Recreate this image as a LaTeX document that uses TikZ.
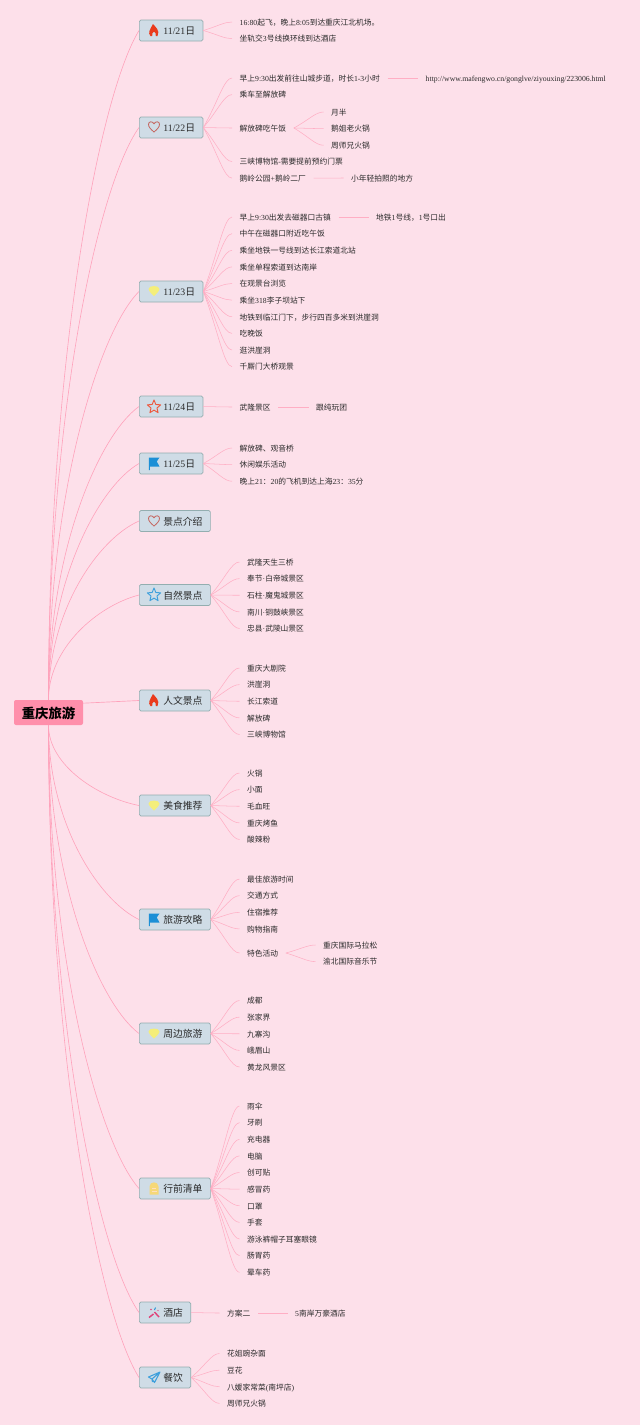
\documentclass[tikz,border=0pt]{standalone}
\usepackage{fontspec}
\usepackage{amsmath}
\usetikzlibrary{positioning,calc}
\setmainfont{Liberation Serif}
\newfontfamily\cjk{Noto Sans CJK SC}
\newcommand{\lat}[1]{{\rmfamily #1}}
\definecolor{bgpink}{HTML}{FDE0EA}
\definecolor{rootpink}{HTML}{FF8FAB}
\definecolor{twigpink}{HTML}{FFAEC4}
\definecolor{boughpink}{HTML}{FFA2BB}
\definecolor{boxfill}{HTML}{CFDCE6}
\definecolor{boxline}{HTML}{93AEB0}
\definecolor{leaftext}{HTML}{2A2A2A}
\definecolor{flamered}{HTML}{EA3A1C}
\definecolor{heartred}{HTML}{C4645E}
\definecolor{bulbyellow}{HTML}{F4EE7A}
\definecolor{flagblue}{HTML}{1C8FD6}
\definecolor{starblue}{HTML}{3FA0DC}
\definecolor{packyellow}{HTML}{F6D878}
\definecolor{wandpink}{HTML}{E0457A}
\tikzset{
  rootbox/.style={fill=rootpink,rounded corners=1.5pt,minimum width=51.75pt,minimum height=18.75pt,inner sep=0pt,text height=8.4pt,text depth=0pt,font=\cjk\bfseries\fontsize{10}{12}\selectfont},
  topic/.style={draw=boxline,fill=boxfill,line width=0.5pt,rounded corners=1.2pt,anchor=west,minimum height=15.75pt,inner ysep=0pt,inner xsep=5.9pt,text height=6.3pt,text depth=0.3pt,text=leaftext,font=\cjk\fontsize{7.35}{9}\selectfont},
  leaf/.style={anchor=west,inner ysep=0pt,inner xsep=5.6pt,text height=5.5pt,text depth=0.5pt,text=leaftext,font=\cjk\fontsize{5.8}{7}\selectfont},
  nextleaf/.style={leaf,below=of #1.west,anchor=west},
  twig/.style={draw=twigpink,line width=0.4pt,to path={.. controls ($(\tikztostart)!0.5!(\tikztotarget)$) and ($(\tikztotarget)+(-8,0)$) .. (\tikztotarget)}},
  bough/.style={draw=boughpink,line width=0.45pt,to path={let \p1=(\tikztostart),\p2=(\tikztotarget) in .. controls (\x1,{\y1+0.5*(\y2-\y1)}) and ({\x2-0.45*(\x2-\x1)},{\y2-0.1*(\y2-\y1)}) .. (\p2)}},
  flame/.pic={\fill[flamered] (-3.5,5.5) .. controls (-6.5,2.5) and (-4,-1) .. (-1,-6.5) .. controls (1,-4) and (6.5,0) .. (3.5,5.5) -- (1.8,5.5) .. controls (2.5,3) and (1,2) .. (0,1) .. controls (-1,2) and (-2.5,3) .. (-1.8,5.5) -- cycle;},
  heart/.pic={\draw[heartred,line width=0.6pt] (0,5) .. controls (-3,2.5) and (-5.5,0) .. (-5.5,-2.5) .. controls (-5.5,-6) and (-1.5,-6) .. (0,-3.2) .. controls (1.5,-6) and (5.5,-6) .. (5.5,-2.5) .. controls (5.5,0) and (3,2.5) .. (0,5) -- cycle;},
  bulb/.pic={\fill[bulbyellow] (0,5) .. controls (-2,3) and (-5.5,0) .. (-5.5,-2) .. controls (-5.5,-6) and (5.5,-6) .. (5.5,-2) .. controls (5.5,0) and (2,3) .. (0,5) -- cycle;},
  starshape/.pic={\draw[pic actions,scale=1.08,line width=0.7pt,line join=round] (0,-6.5) -- (1.7,-2.35) -- (6.2,-2) -- (2.76,0.9) -- (3.8,5.25) -- (0,2.9) -- (-3.8,5.25) -- (-2.76,0.9) -- (-6.2,-2) -- (-1.7,-2.35) -- cycle;},
  flag/.pic={\fill[flagblue] (-5.2,-6) -- (5.5,-6) -- (2.8,-2) -- (5.5,3) -- (-4.2,3) -- (-4.2,6.5) -- (-5.2,6.5) -- cycle;},
  pack/.pic={\fill[packyellow] (-4.5,6) -- (-4.5,-2) .. controls (-4.5,-7.5) and (4.5,-7.5) .. (4.5,-2) -- (4.5,6) -- cycle;
    \draw[white!75!orange,line width=0.4pt] (-2,0) -- (2,0) (-2.5,3) -- (2.5,3);},
  wand/.pic={\draw[wandpink,line width=1.1pt] (-5,5) -- (-0.5,1.5) (0.5,-0.5) -- (5,4.5);
    \draw[flagblue,line width=0.7pt] (1.5,-5) -- (0.5,-2.5);
    \fill[wandpink] (-3,-3) circle (0.8) (4,-2) circle (0.7);},
  plane/.pic={\draw[starblue,line width=0.8pt,line join=round] (6,-5.5) -- (-5.5,-0.5) -- (-2,1.5) -- (0.5,5) -- cycle (6,-5.5) -- (-2,1.5) -- (-1.5,4.5);}
}
\begin{document}
\begin{tikzpicture}[x=0.75pt,y=-0.75pt,node distance=12.47pt]
\fill[bgpink] (0,0) rectangle (640,1425);
\useasboundingbox (0,0) rectangle (640,1425);
\node[rootbox] (trip) at (48.5,712.5) {重庆旅游};
% dates
\node[topic] (d1) at (139,30.5) {\hspace*{12.1pt}\lat{11/21}日};
\node[topic] (d2) at (139,127.5) {\hspace*{12.1pt}\lat{11/22}日};
\node[topic] (d3) at (139,291.5) {\hspace*{12.1pt}\lat{11/23}日};
\node[topic] (d4) at (139,406.5) {\hspace*{12.1pt}\lat{11/24}日};
\node[topic] (d5) at (139,463.5) {\hspace*{12.1pt}\lat{11/25}日};
% topics
\node[topic] (t0) at (139,521) {\hspace*{12.1pt}景点介绍};
\node[topic] (t1) at (139,595) {\hspace*{12.1pt}自然景点};
\node[topic] (t2) at (139,700.5) {\hspace*{12.1pt}人文景点};
\node[topic] (t3) at (139,805.5) {\hspace*{12.1pt}美食推荐};
\node[topic] (t4) at (139,919.5) {\hspace*{12.1pt}旅游攻略};
\node[topic] (t5) at (139,1033.5) {\hspace*{12.1pt}周边旅游};
\node[topic] (t6) at (139,1188.5) {\hspace*{12.1pt}行前清单};
\node[topic] (t7) at (139,1312.5) {\hspace*{12.1pt}酒店};
\node[topic] (t8) at (139,1377.5) {\hspace*{12.1pt}餐饮};
% icons
\pic at (154,30.5) {flame};
\pic at (154,127) {heart};
\pic at (154,291) {bulb};
\pic[draw=flamered!85!white] at (154,407) {starshape};
\pic at (154,463.5) {flag};
\pic at (154,521) {heart};
\pic[draw=starblue] at (154,595) {starshape};
\pic at (154,700.5) {flame};
\pic at (154,805.5) {bulb};
\pic at (154,919.5) {flag};
\pic at (154,1033.5) {bulb};
\pic at (154,1188.5) {pack};
\pic at (154,1312.5) {wand};
\pic at (154,1377.5) {plane};
% 11/21
\node[leaf] (a1) at (232,22) {\lat{16:80}起飞，晚上\lat{8:05}到达重庆江北机场。};
\node[nextleaf=a1] (a2) {坐轨交\lat{3}号线换环线到达酒店};
% 11/22
\node[leaf] (b1) at (232,78) {早上\lat{9:30}出发前往山城步道，时长\lat{1-3}小时};
\node[leaf] (b1a) at (418,78) {\lat{http://www.mafengwo.cn/gonglve/ziyouxing/223006.html}};
\node[nextleaf=b1] (b2) {乘车至解放碑};
\node[leaf] (b3) at (232,128) {解放碑吃午饭};
\node[leaf] (b3a) at (323.5,112) {月半};
\node[nextleaf=b3a] (b3b) {鹅姐老火锅};
\node[nextleaf=b3b] (b3c) {周师兄火锅};
\node[leaf] (b4) at (232,161.5) {三峡博物馆\lat{-}需要提前预约门票};
\node[nextleaf=b4] (b5) {鹅岭公园\lat{+}鹅岭二厂};
\node[leaf] (b5a) at (343.5,178) {小年轻拍照的地方};
% 11/23
\node[leaf] (c1) at (232,217) {早上\lat{9:30}出发去磁器口古镇};
\node[leaf] (c1a) at (368.5,217) {地铁\lat{1}号线，\lat{1}号口出};
\node[nextleaf=c1] (c2) {中午在磁器口附近吃午饭};
\node[nextleaf=c2] (c3) {乘坐地铁一号线到达长江索道北站};
\node[nextleaf=c3] (c4) {乘坐单程索道到达南岸};
\node[nextleaf=c4] (c5) {在观景台浏览};
\node[nextleaf=c5] (c6) {乘坐\lat{318}李子坝站下};
\node[nextleaf=c6] (c7) {地铁到临江门下，步行四百多米到洪崖洞};
\node[nextleaf=c7] (c8) {吃晚饭};
\node[nextleaf=c8] (c9) {逛洪崖洞};
\node[nextleaf=c9] (c10) {千厮门大桥观景};
% 11/24
\node[leaf] (e1) at (232,407) {武隆景区};
\node[leaf] (e1a) at (308.5,407) {跟纯玩团};
% 11/25
\node[leaf] (f1) at (232,448) {解放碑、观音桥};
\node[nextleaf=f1] (f2) {休闲娱乐活动};
\node[nextleaf=f2] (f3) {晚上\lat{21}：\lat{20}的飞机到达上海\lat{23}：\lat{35}分};
% nature
\node[leaf] (g1) at (239.5,562) {武隆天生三桥};
\node[nextleaf=g1] (g2) {奉节\lat{·}白帝城景区};
\node[nextleaf=g2] (g3) {石柱\lat{·}魔鬼城景区};
\node[nextleaf=g3] (g4) {南川\lat{·}铜鼓峡景区};
\node[nextleaf=g4] (g5) {忠县\lat{·}武陵山景区};
% culture
\node[leaf] (h1) at (239.5,668) {重庆大剧院};
\node[nextleaf=h1] (h2) {洪崖洞};
\node[nextleaf=h2] (h3) {长江索道};
\node[nextleaf=h3] (h4) {解放碑};
\node[nextleaf=h4] (h5) {三峡博物馆};
% food
\node[leaf] (i1) at (239.5,773) {火锅};
\node[nextleaf=i1] (i2) {小面};
\node[nextleaf=i2] (i3) {毛血旺};
\node[nextleaf=i3] (i4) {重庆烤鱼};
\node[nextleaf=i4] (i5) {酸辣粉};
% guide
\node[leaf] (j1) at (239.5,879) {最佳旅游时间};
\node[nextleaf=j1] (j2) {交通方式};
\node[nextleaf=j2] (j3) {住宿推荐};
\node[nextleaf=j3] (j4) {购物指南};
\node[leaf] (j5) at (239.5,953) {特色活动};
\node[leaf] (j5a) at (315.5,945) {重庆国际马拉松};
\node[nextleaf=j5a] (j5b) {渝北国际音乐节};
% nearby
\node[leaf] (k1) at (239.5,1000.5) {成都};
\node[nextleaf=k1] (k2) {张家界};
\node[nextleaf=k2] (k3) {九寨沟};
\node[nextleaf=k3] (k4) {峨眉山};
\node[nextleaf=k4] (k5) {黄龙风景区};
% packing
\node[leaf] (l1) at (239.5,1106) {雨伞};
\node[nextleaf=l1] (l2) {牙刷};
\node[nextleaf=l2] (l3) {充电器};
\node[nextleaf=l3] (l4) {电脑};
\node[nextleaf=l4] (l5) {创可贴};
\node[nextleaf=l5] (l6) {感冒药};
\node[nextleaf=l6] (l7) {口罩};
\node[nextleaf=l7] (l8) {手套};
\node[nextleaf=l8] (l9) {游泳裤帽子耳塞眼镜};
\node[nextleaf=l9] (l10) {肠胃药};
\node[nextleaf=l10] (l11) {晕车药};
% hotel and meals
\node[leaf] (m1) at (219.5,1313) {方案二};
\node[leaf] (m1a) at (287.5,1313) {\lat{5}南岸万豪酒店};
\node[leaf] (n1) at (219.5,1353.5) {花姐豌杂面};
\node[nextleaf=n1] (n2) {豆花};
\node[nextleaf=n2] (n3) {八媛家常菜\lat{(}南坪店\lat{)}};
\node[nextleaf=n3] (n4) {周师兄火锅};
% from the root
\path[bough] (trip.north) edge (d1.west) edge (d2.west) edge (d3.west) edge (d4.west) edge (d5.west) edge (t0.west) edge (t1.west);
\path[bough] (trip.south) edge (t3.west) edge (t4.west) edge (t5.west) edge (t6.west) edge (t7.west) edge (t8.west);
\draw[boughpink,line width=0.5pt] (trip.15) -- (t2.west);
% branches
\path[twig] (d1.east) edge (a1.west) edge (a2.west);
\path[twig] (d2.east) edge (b1.west) edge (b2.west) edge (b3.west) edge (b4.west) edge (b5.west);
\path[twig] (b3.east) edge (b3a.west) edge (b3b.west) edge (b3c.west);
\path[twig] (d3.east) edge (c1.west) edge (c2.west) edge (c3.west) edge (c4.west) edge (c5.west) edge (c6.west) edge (c7.west) edge (c8.west) edge (c9.west) edge (c10.west);
\path[twig] (d4.east) edge (e1.west);
\path[twig] (d5.east) edge (f1.west) edge (f2.west) edge (f3.west);
\path[twig] (t1.east) edge (g1.west) edge (g2.west) edge (g3.west) edge (g4.west) edge (g5.west);
\path[twig] (t2.east) edge (h1.west) edge (h2.west) edge (h3.west) edge (h4.west) edge (h5.west);
\path[twig] (t3.east) edge (i1.west) edge (i2.west) edge (i3.west) edge (i4.west) edge (i5.west);
\path[twig] (t4.east) edge (j1.west) edge (j2.west) edge (j3.west) edge (j4.west) edge (j5.west);
\path[twig] (j5.east) edge (j5a.west) edge (j5b.west);
\path[twig] (t5.east) edge (k1.west) edge (k2.west) edge (k3.west) edge (k4.west) edge (k5.west);
\path[twig] (t6.east) edge (l1.west) edge (l2.west) edge (l3.west) edge (l4.west) edge (l5.west) edge (l6.west) edge (l7.west) edge (l8.west) edge (l9.west) edge (l10.west) edge (l11.west);
\path[twig] (t7.east) edge (m1.west);
\path[twig] (t8.east) edge (n1.west) edge (n2.west) edge (n3.west) edge (n4.west);
\draw[twigpink,line width=0.4pt] (b1.east) -- (b1a.west);
\draw[twigpink,line width=0.4pt] (b5.east) -- (b5a.west);
\draw[twigpink,line width=0.4pt] (c1.east) -- (c1a.west);
\draw[twigpink,line width=0.4pt] (e1.east) -- (e1a.west);
\draw[twigpink,line width=0.4pt] (m1.east) -- (m1a.west);
\end{tikzpicture}
\end{document}
